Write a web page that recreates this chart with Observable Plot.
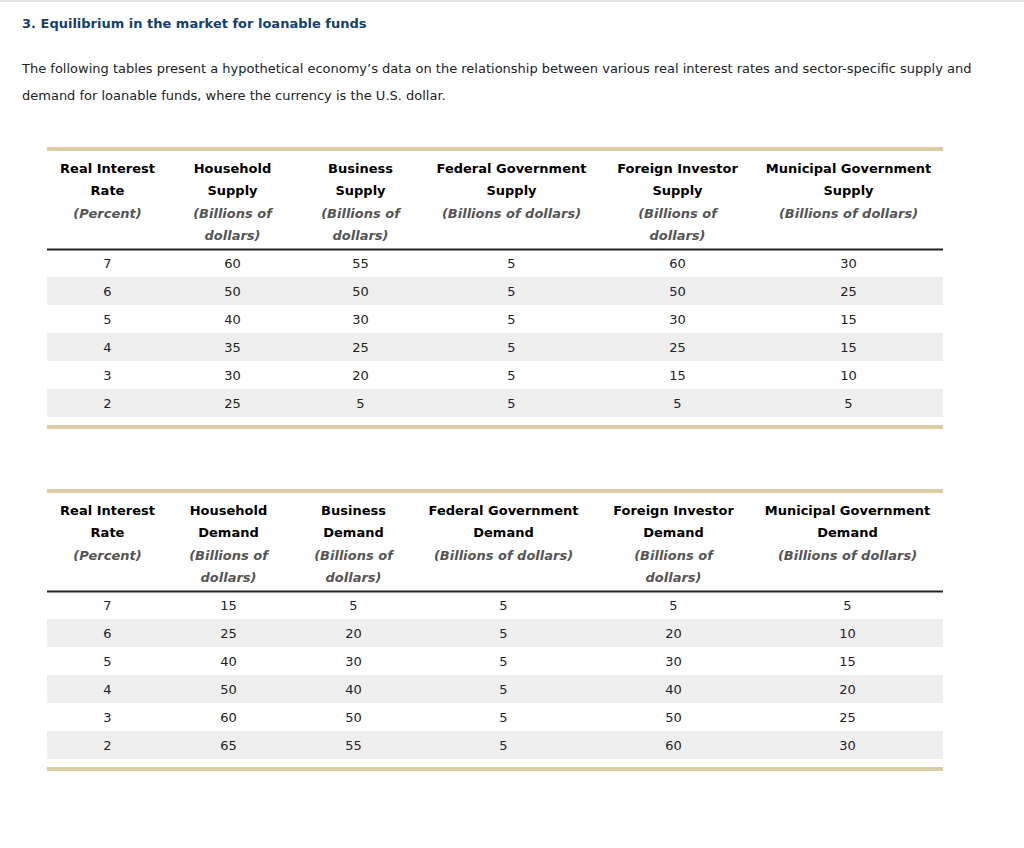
<!DOCTYPE html>
<html>
<head>
<meta charset="utf-8">
<script src="https://cdn.jsdelivr.net/npm/d3@7"></script>
<script src="https://cdn.jsdelivr.net/npm/@observablehq/plot@0.6"></script>
<style>
  html, body { margin: 0; padding: 0; background: #fff; width: 1024px; height: 848px; overflow: hidden; }
  body { font-family: "DejaVu Sans", Verdana, sans-serif; position: relative; }
  .topline { position: absolute; left: 0; top: 0; width: 1024px; height: 2px; background: #e2e2e2; }
  .title { position: absolute; left: 22px; top: 16px; font-size: 13px; font-weight: bold; color: #15406a; white-space: nowrap; }
  .para { position: absolute; left: 22px; top: 55px; font-size: 13px; line-height: 27px; color: #222; white-space: nowrap; }
  .tbl { position: absolute; left: 47px; width: 896px; border-top: 4px solid #dccea4; border-bottom: 4px solid #dccea4; }
  .tbl svg { display: block; }
</style>
</head>
<body>
<div class="topline"></div>
<div class="title">3. Equilibrium in the market for loanable funds</div>
<div class="para">The following tables present a hypothetical economy’s data on the relationship between various real interest rates and sector-specific supply and<br>demand for loanable funds, where the currency is the U.S. dollar.</div>
<div class="tbl" id="supply" style="top:147px"></div>
<div class="tbl" id="demand" style="top:489px"></div>
<script>
// ---- data ----
const rates = [7, 6, 5, 4, 3, 2];

const householdSupply = [60, 50, 40, 35, 30, 25];
const businessSupply = [55, 50, 30, 25, 20, 5];
const federalSupply = [5, 5, 5, 5, 5, 5];
const foreignSupply = [60, 50, 30, 25, 15, 5];
const municipalSupply = [30, 25, 15, 15, 10, 5];

const householdDemand = [15, 25, 40, 50, 60, 65];
const businessDemand = [5, 20, 30, 40, 50, 55];
const federalDemand = [5, 5, 5, 5, 5, 5];
const foreignDemand = [5, 20, 30, 40, 50, 60];
const municipalDemand = [5, 10, 15, 20, 25, 30];

const supplyTitles = ["Real Interest\nRate", "Household\nSupply", "Business\nSupply", "Federal Government\nSupply", "Foreign Investor\nSupply", "Municipal Government\nSupply"];
const demandTitles = ["Real Interest\nRate", "Household\nDemand", "Business\nDemand", "Federal Government\nDemand", "Foreign Investor\nDemand", "Municipal Government\nDemand"];
const unitLabels = ["(Percent)", "(Billions of\ndollars)", "(Billions of\ndollars)", "(Billions of dollars)", "(Billions of\ndollars)", "(Billions of dollars)"];

// ---- build ----
function makeTable(titles, series, colRange) {
  const cols = [rates, ...series];
  const cells = [];
  cols.forEach((vals, c) => vals.forEach((v, r) => cells.push({col: c, rate: String(rates[r]), value: String(v)})));
  const shaded = rates.filter((d, i) => i % 2 === 1).map(String);
  const headers = titles.map((t, i) => ({col: i, title: t, unit: unitLabels[i]}));
  return Plot.plot({
    width: 896,
    height: 274,
    marginTop: 98,
    marginBottom: 8,
    marginLeft: 0,
    marginRight: 0,
    x: {type: "linear", domain: d3.range(6), range: colRange, axis: null},
    y: {type: "band", domain: rates.map(String), padding: 0, axis: null},
    style: {fontFamily: "'DejaVu Sans', Verdana, sans-serif", background: "white"},
    marks: [
      Plot.cell(shaded, {y: d => d, fill: "#eeeeee"}),
      Plot.frame({anchor: "top", stroke: "#222", strokeWidth: 2}),
      Plot.text(cells, {x: "col", y: "rate", text: "value", fontSize: 13, fill: "#222"}),
      Plot.text(headers, {x: "col", text: "title", frameAnchor: "top", lineAnchor: "top", dy: -92, fontSize: 13, fontWeight: "bold", fill: "#000", lineHeight: 1.7}),
      Plot.text(headers, {x: "col", text: "unit", frameAnchor: "top", lineAnchor: "top", dy: -47, fontSize: 13, fontWeight: "bold", fontStyle: "italic", fill: "#555", lineHeight: 1.7})
    ]
  });
}

document.getElementById("supply").appendChild(
  makeTable(supplyTitles, [householdSupply, businessSupply, federalSupply, foreignSupply, municipalSupply], [60, 185, 313, 464, 630, 801])
);
document.getElementById("demand").appendChild(
  makeTable(demandTitles, [householdDemand, businessDemand, federalDemand, foreignDemand, municipalDemand], [60, 181, 306, 456, 626, 800])
);
</script>
</body>
</html>
